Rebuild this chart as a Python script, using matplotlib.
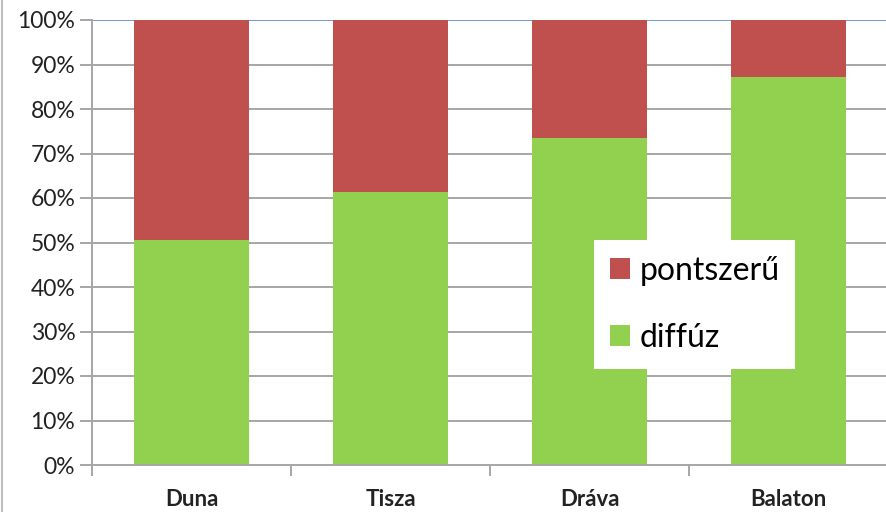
import matplotlib.pyplot as plt
from matplotlib.patches import Patch
from matplotlib.lines import Line2D

categories = ['Duna', 'Tisza', 'Dráva', 'Balaton']
diffuz = [50.6, 61.3, 73.5, 87.2]
pontszeru = [49.4, 38.7, 26.5, 12.8]
yticks = [0, 10, 20, 30, 40, 50, 60, 70, 80, 90, 100]

green = '#92D050'
red = '#C0504D'
grid = '#A6A6A6'

plt.rcParams['font.family'] = ['Lato', 'DejaVu Sans']

fig = plt.figure(figsize=(8.86, 5.12), dpi=100)
ax = fig.add_axes([92 / 886, 47 / 512, 796 / 886, 445 / 512])

x = range(len(categories))
ax.bar(x, diffuz, width=0.58, color=green, zorder=2)
ax.bar(x, pontszeru, bottom=diffuz, width=0.58, color=red, zorder=2)

ax.set_xlim(-0.5, 3.5)
ax.set_ylim(0, 100)
ax.set_yticks(yticks)
ax.set_yticklabels([f'{v}%' for v in yticks], fontsize=16.5, color='#222222')
for v in yticks[1:-1]:
    ax.axhline(v, color=grid, lw=1.4, zorder=1)
ax.axhline(100, color='#6F9BD2', lw=1.4, zorder=1)

# category labels between the boundary ticks
ax.set_xticks([-0.5, 0.5, 1.5, 2.5, 3.5])
ax.set_xticklabels([])
ax.set_xticks(list(x), minor=True)
ax.set_xticklabels(categories, minor=True, fontsize=16, fontweight='bold', color='#222222')
ax.tick_params(axis='x', which='minor', length=0, pad=17)
ax.tick_params(axis='x', which='major', length=8, color=grid, width=1.4)
ax.tick_params(axis='y', length=9, color=grid, width=1.4, pad=3)

for side in ['top', 'right']:
    ax.spines[side].set_visible(False)
for side in ['left', 'bottom']:
    ax.spines[side].set_color(grid)
    ax.spines[side].set_linewidth(1.4)

handles = [Patch(facecolor=red, edgecolor='none'), Patch(facecolor=green, edgecolor='none')]
leg = fig.legend(handles, ['pontszerű', 'diffúz'], loc='upper left',
                 bbox_to_anchor=(594 / 886, 1 - 240 / 512), fontsize=23,
                 frameon=True, fancybox=False, framealpha=1, edgecolor='none',
                 borderpad=0.5, labelspacing=1.15, handlelength=0.62,
                 handleheight=0.62, handletextpad=0.3, borderaxespad=0)
leg.get_frame().set_facecolor('white')

fig.add_artist(Line2D([1.5 / 886, 1.5 / 886], [0, 1], color='#BFBFBF', lw=1.5))

fig.savefig('out.png', dpi=100)
